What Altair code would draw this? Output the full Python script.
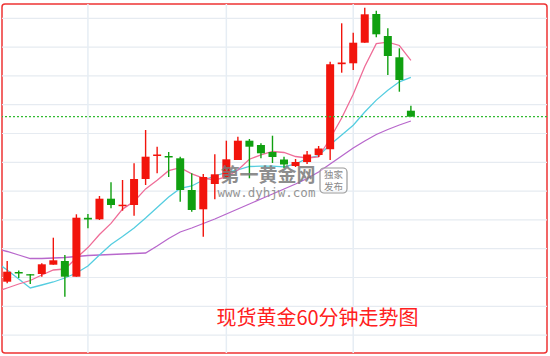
import altair as alt
import pandas as pd

# ---- data (prices, arbitrary units) ----
idx = list(range(36))
opens = [1471.83, 1472.80, 1472.58, 1472.60, 1473.53, 1473.90, 1472.33, 1478.22, 1478.07, 1480.13,
         1479.38, 1479.50, 1482.10, 1484.40, 1484.40, 1484.17, 1481.00, 1479.07, 1481.60, 1482.27,
         1484.00, 1485.93, 1485.50, 1484.80, 1484.05, 1483.40, 1483.80, 1484.50, 1485.07, 1493.58,
         1493.67, 1495.73, 1498.60, 1496.40, 1494.27, 1488.93]
closes = [1472.83, 1472.65, 1472.45, 1473.57, 1473.97, 1472.33, 1478.23, 1478.05, 1480.13, 1479.50,
          1479.53, 1482.10, 1484.33, 1484.55, 1484.25, 1481.00, 1479.00, 1482.30, 1482.57, 1484.07,
          1485.93, 1485.33, 1484.67, 1484.30, 1483.55, 1483.80, 1484.55, 1485.15, 1493.57, 1493.75,
          1495.73, 1498.57, 1496.57, 1494.40, 1492.00, 1488.33]
highs = [1473.90, 1472.95, 1472.60, 1473.67, 1476.23, 1474.50, 1478.57, 1478.60, 1480.40, 1481.77,
         1482.00, 1483.67, 1487.00, 1485.33, 1484.80, 1484.33, 1482.67, 1482.60, 1484.57, 1485.93,
         1486.33, 1486.10, 1485.67, 1486.43, 1484.33, 1484.10, 1484.90, 1485.40, 1493.83, 1497.67,
         1496.73, 1499.23, 1498.93, 1497.17, 1495.17, 1489.43]
lows = [1471.67, 1472.20, 1471.60, 1472.33, 1473.53, 1470.33, 1472.33, 1477.17, 1478.00, 1479.17,
        1478.93, 1478.43, 1481.50, 1482.67, 1482.30, 1479.83, 1478.83, 1476.33, 1480.07, 1482.20,
        1484.00, 1482.17, 1484.17, 1483.70, 1483.20, 1483.30, 1483.60, 1484.30, 1484.00, 1492.73,
        1493.00, 1495.73, 1496.27, 1492.50, 1490.83, 1488.33]

ma_idx = list(range(-1, 36))
ma5 = [1470.80, 1471.20, 1471.60, 1471.95, 1472.50, 1473.00, 1473.10, 1474.20, 1475.24, 1476.55,
       1477.66, 1479.09, 1479.86, 1481.11, 1481.97, 1482.93, 1483.24, 1482.62, 1482.20, 1482.00,
       1482.30, 1483.00, 1484.08, 1484.51, 1484.85, 1484.75, 1484.35, 1484.20, 1484.30, 1486.15,
       1488.20, 1490.57, 1493.35, 1495.63, 1495.79, 1495.45, 1493.97]
ma10 = [1473.80, 1473.00, 1472.10, 1471.20, 1471.50, 1471.80, 1472.20, 1472.70, 1473.40, 1474.50,
        1475.55, 1476.35, 1477.20, 1478.20, 1479.26, 1480.29, 1481.16, 1481.40, 1482.00, 1482.40,
        1482.75, 1483.02, 1483.35, 1483.38, 1483.39, 1483.32, 1483.60, 1484.17, 1484.43, 1485.53,
        1486.50, 1487.48, 1488.80, 1489.99, 1490.98, 1491.82, 1492.27]
ma20 = [1475.15, 1474.85, 1474.50, 1474.15, 1474.15, 1474.20, 1474.25, 1474.35, 1474.45, 1474.50,
        1474.55, 1474.60, 1474.65, 1474.70, 1475.40, 1476.15, 1476.80, 1477.20, 1477.65, 1478.10,
        1478.60, 1479.10, 1479.60, 1480.10, 1480.60, 1481.10, 1481.60, 1482.15, 1482.80, 1483.60,
        1484.40, 1485.20, 1485.90, 1486.55, 1487.05, 1487.50, 1487.90]

grid_prices = [1498.17, 1495.29, 1492.41, 1489.53, 1486.65, 1483.77,
               1480.89, 1478.01, 1475.13, 1472.25, 1469.37, 1466.49]
session_starts = [7, 19, 30]
title_text = "现货黄金60分钟走势图"

# ---- tables ----
candles = pd.DataFrame({"idx": idx, "open": opens, "close": closes, "high": highs, "low": lows})
candles["dir"] = ["up" if c >= o else "down" for o, c in zip(opens, closes)]
ma = pd.DataFrame({"idx": ma_idx, "ma5": ma5, "ma10": ma10, "ma20": ma20})
grid_df = pd.DataFrame({"p": grid_prices})
vgrid_df = pd.DataFrame({"i": session_starts})
last_df = pd.DataFrame({"p": [closes[-1]]})

RED = "#f2140c"
GREEN = "#10a010"

xs = alt.Scale(domain=[-0.45, 46.8], nice=False, zero=False)
ys = alt.Scale(domain=[1464.7, 1499.6], nice=False, zero=False)

hgrid = alt.Chart(grid_df).mark_rule(color="#e6ebf1", strokeWidth=1.2).encode(
    y=alt.Y("p:Q", scale=ys, axis=None))
vgrid = alt.Chart(vgrid_df).mark_rule(color="#e6edf4", strokeWidth=1.5).encode(
    x=alt.X("i:Q", scale=xs, axis=None))

col = alt.Color("dir:N", scale=alt.Scale(domain=["up", "down"], range=[RED, GREEN]), legend=None)
wicks = alt.Chart(candles).mark_rule(strokeWidth=1.4).encode(
    x=alt.X("idx:Q", scale=xs, axis=None),
    y=alt.Y("low:Q", scale=ys, axis=None),
    y2="high:Q",
    color=col)
bodies = alt.Chart(candles).mark_rule(strokeWidth=8, strokeCap="butt").encode(
    x=alt.X("idx:Q", scale=xs, axis=None),
    y=alt.Y("open:Q", scale=ys, axis=None),
    y2="close:Q",
    color=col)

def ma_line(field, color):
    return alt.Chart(ma).mark_line(color=color, strokeWidth=1.3, clip=True).encode(
        x=alt.X("idx:Q", scale=xs, axis=None),
        y=alt.Y(f"{field}:Q", scale=ys, axis=None))

last_line = alt.Chart(last_df).mark_rule(color="#33bb33", strokeWidth=1.2, strokeDash=[2, 2]).encode(
    y=alt.Y("p:Q", scale=ys, axis=None))

title = alt.Chart(pd.DataFrame({"t": [title_text]})).mark_text(
    font="Noto Sans CJK SC", fontSize=20, color="#ff2020", align="center", baseline="middle"
).encode(text="t:N", x=alt.value(315.5), y=alt.value(314.5))

wm_main = alt.Chart(pd.DataFrame({"t": ["第一黄金网"]})).mark_text(
    font="Noto Sans CJK SC", fontSize=19, fontWeight="bold", color="#7a7a7a", opacity=0.85,
    align="center", baseline="middle"
).encode(text="t:N", x=alt.value(266), y=alt.value(171.5))
wm_url = alt.Chart(pd.DataFrame({"t": ["www.dyhjw.com"]})).mark_text(
    font="DejaVu Sans Mono", fontSize=12.5, color="#8a8a8a", opacity=0.9,
    align="center", baseline="middle"
).encode(text="t:N", x=alt.value(264.5), y=alt.value(189))
wm_box = alt.Chart(pd.DataFrame({"a": [0]})).mark_rect(
    fill="white", fillOpacity=0.3, stroke="#9a9a9a", strokeWidth=1.2, cornerRadius=4
).encode(x=alt.value(318), x2=alt.value(345), y=alt.value(164), y2=alt.value(189))
wm_tag1 = alt.Chart(pd.DataFrame({"t": ["独家"]})).mark_text(
    font="Noto Sans CJK SC", fontSize=9.5, color="#8a8a8a", align="center", baseline="middle"
).encode(text="t:N", x=alt.value(331.5), y=alt.value(170.5))
wm_tag2 = alt.Chart(pd.DataFrame({"t": ["发布"]})).mark_text(
    font="Noto Sans CJK SC", fontSize=9.5, color="#8a8a8a", align="center", baseline="middle"
).encode(text="t:N", x=alt.value(331.5), y=alt.value(183))

chart = alt.layer(
    hgrid, vgrid,
    ma_line("ma20", "#b868cc"), ma_line("ma10", "#55cde0"), ma_line("ma5", "#ef6d98"),
    wicks, bodies, last_line, title,
    wm_main, wm_url, wm_box, wm_tag1, wm_tag2
).properties(
    width=545, height=349,
    padding={"left": 2, "top": 4, "right": 3, "bottom": 3},
    autosize=alt.AutoSizeParams(type="none"),
    background="white"
).configure_view(
    stroke="#ee3333", strokeWidth=1.5, cornerRadius=3
)

chart.save("out.html", embed_options={"renderer": "svg", "actions": False})
